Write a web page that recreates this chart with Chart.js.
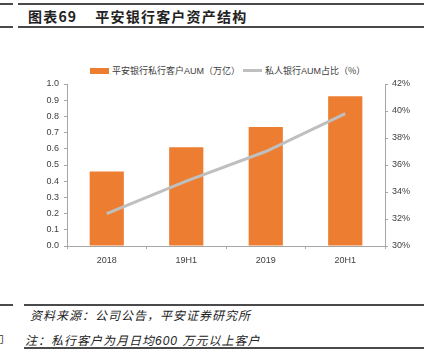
<!DOCTYPE html>
<html><head><meta charset="utf-8">
<script src="https://cdn.jsdelivr.net/npm/chart.js@4"></script>
<style>
html,body{margin:0;padding:0;background:#fff;width:431px;height:357px;overflow:hidden;position:relative;font-family:"Noto Sans CJK SC","Liberation Sans",sans-serif;}
.ln{position:absolute;background:#4a4a4a;}
.t{position:absolute;white-space:nowrap;}
#box{position:absolute;left:0;top:30px;width:431px;height:262px;}
</style></head><body>
<div class="ln" style="left:0;top:3px;width:13px;height:2px"></div>
<div class="ln" style="left:18px;top:3px;width:406px;height:2px"></div>
<div class="ln" style="left:0;top:26px;width:13px;height:2px"></div>
<div class="ln" style="left:18px;top:26px;width:406px;height:2px"></div>
<div class="t" style="left:28px;top:6px;font-size:14px;font-weight:bold;color:#222;letter-spacing:1.2px;line-height:20px">图表69<span style="display:inline-block;width:18px"></span>平安银行客户资产结构</div>

<div class="t" id="leg1" style="left:90px;top:64px;font-size:9px;color:#404040;line-height:14px"><span style="display:inline-block;width:19px;height:6px;background:#ED7D31;vertical-align:middle;margin-right:3px;margin-top:-2px"></span>平安银行私行客户<span style="font-family:'Liberation Sans Narrow','Liberation Sans'">AUM</span>（万亿）</div>
<div class="t" id="leg2" style="left:243px;top:64px;font-size:9px;color:#404040;line-height:14px"><span style="display:inline-block;width:19px;height:3px;background:#BFBFBF;vertical-align:middle;margin-right:3px;margin-top:-2px"></span>私人银行<span style="font-family:'Liberation Sans Narrow','Liberation Sans'">AUM</span>占比（%）</div>

<div id="box"><canvas id="c"></canvas></div>

<div class="ln" style="left:0;top:304px;width:13px;height:1.5px"></div>
<div class="ln" style="left:24px;top:304px;width:400px;height:1.5px"></div>
<div class="t" style="left:30px;top:307px;font-size:12px;font-style:italic;color:#222;letter-spacing:1px;line-height:16px">资料来源：公司公告，平安证券研究所</div>
<div class="t" style="left:-8px;top:332px;font-size:12px;color:#555;line-height:16px">印</div>
<div class="t" style="left:25px;top:332px;font-size:12px;font-style:italic;color:#222;letter-spacing:1px;line-height:16px">注：私行客户为月日均<span style="font-family:'Liberation Sans'">600 </span>万元以上客户</div>
<div class="ln" style="left:24px;top:347px;width:400px;height:1.5px"></div>

<script>
const categories = ["2018", "19H1", "2019", "20H1"];
const aumValues = [0.46, 0.61, 0.735, 0.925];
const shareValues = [32.4, 34.8, 37.0, 39.8];
const leftTicks = [0, 0.1, 0.2, 0.3, 0.4, 0.5, 0.6, 0.7, 0.8, 0.9, 1.0];
const rightTicks = [30, 32, 34, 36, 38, 40, 42];

const tickFont = {family: "'Liberation Sans Narrow','Liberation Sans',sans-serif", size: 9};
const axisColor = '#A6A6A6';

new Chart(document.getElementById('c'), {
  data: {
    labels: categories,
    datasets: [
      {type: 'line', label: '私人银行AUM占比（%）', data: shareValues, yAxisID: 'y1',
       borderColor: '#BFBFBF', backgroundColor: '#BFBFBF', borderWidth: 3, pointRadius: 0,
       tension: 0, order: 0},
      {type: 'bar', label: '平安银行私行客户AUM（万亿）', data: aumValues, yAxisID: 'y',
       backgroundColor: '#ED7D31', barPercentage: 0.43, categoryPercentage: 1, order: 1}
    ]
  },
  options: {
    responsive: true, maintainAspectRatio: false, animation: false,
    devicePixelRatio: 1,
    layout: {padding: {top: 54, left: 0, right: 0, bottom: 0}},
    plugins: {legend: {display: false}, tooltip: {enabled: false}},
    scales: {
      x: {
        grid: {display: true, drawOnChartArea: false, offset: true, color: axisColor, tickLength: 3},
        border: {color: axisColor},
        ticks: {font: tickFont, color: '#404040', padding: 6, maxRotation: 0},
        afterFit: s => { s.height = 46; }
      },
      y: {
        position: 'left', min: 0, max: 1,
        afterBuildTicks: s => { s.ticks = leftTicks.map(v => ({value: v})); },
        grid: {display: true, drawOnChartArea: false, color: axisColor, tickLength: 3},
        border: {color: axisColor},
        ticks: {font: tickFont, color: '#404040', padding: 5, callback: v => Number(v).toFixed(1)},
        afterFit: s => { s.width = 67; }
      },
      y1: {
        position: 'right', min: 30, max: 42,
        afterBuildTicks: s => { s.ticks = rightTicks.map(v => ({value: v})); },
        grid: {display: true, drawOnChartArea: false, color: axisColor, tickLength: 3},
        border: {color: axisColor},
        ticks: {font: tickFont, color: '#404040', padding: 4, callback: v => v + '%'},
        afterFit: s => { s.width = 46; }
      }
    }
  }
});
</script>
</body></html>
